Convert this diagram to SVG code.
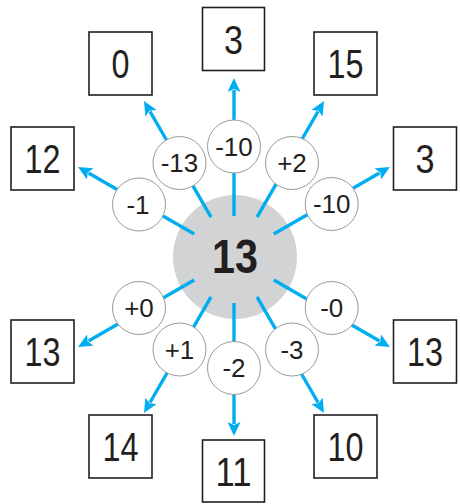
<svg xmlns="http://www.w3.org/2000/svg" width="460" height="504" viewBox="0 0 460 504">
<style>
.bg{fill:#ffffff}
.hub{fill:#D1D3D4}
.hubt{font-family:"Liberation Sans Narrow","Liberation Sans",Arial,sans-serif;font-weight:bold;font-size:49px;fill:#231F20;text-anchor:middle}
.sc{fill:#ffffff;stroke:#9a9a9a;stroke-width:1}
.st{font-family:"Liberation Sans",Arial,sans-serif;font-size:26px;fill:#231F20;text-anchor:middle}
.box{fill:#ffffff;stroke:#231F20;stroke-width:1.6}
.bt{font-family:"Liberation Sans Narrow","Liberation Sans",Arial,sans-serif;font-size:41px;fill:#231F20;text-anchor:middle}
.ln{stroke:#00AEEF;stroke-width:3.4;fill:none;marker-end:url(#ah)}
</style>
<defs>
<marker id="ah" viewBox="0 0 14 13" markerWidth="14" markerHeight="13" markerUnits="userSpaceOnUse" refX="2" refY="6.5" orient="auto">
<path d="M0,0 L14,6.5 L0,13 L3,6.5 Z" fill="#00AEEF"/>
</marker>
</defs>
<rect class="bg" x="0" y="0" width="460" height="504"/>
<g id="hub-circle"><circle class="hub" cx="235" cy="257" r="62"/></g>
<g id="connectors">
<line class="ln" x1="234" y1="216" x2="234" y2="90"/>
<line class="ln" x1="257" y1="217.2" x2="318" y2="111.5"/>
<line class="ln" x1="273.8" y1="234" x2="379.5" y2="173"/>
<line class="ln" x1="273.8" y1="280" x2="379.5" y2="341"/>
<line class="ln" x1="257" y1="296.8" x2="318" y2="402.5"/>
<line class="ln" x1="234" y1="303" x2="234" y2="424"/>
<line class="ln" x1="211" y1="296.8" x2="150" y2="402.5"/>
<line class="ln" x1="194.2" y1="280" x2="88.5" y2="341"/>
<line class="ln" x1="194.2" y1="234" x2="88.5" y2="173"/>
<line class="ln" x1="211" y1="217.2" x2="150" y2="111.5"/>
</g>
<g id="hub-label"><text class="hubt" x="235" y="273" textLength="46" lengthAdjust="spacingAndGlyphs">13</text></g>
<g id="op-m1"><circle class="sc" cx="139" cy="204.5" r="26.5"/><text class="st" x="138" y="213.5">-1</text></g>
<g id="op-m13"><circle class="sc" cx="179.5" cy="163" r="26.5"/><text class="st" x="179.5" y="172">-13</text></g>
<g id="op-m10a"><circle class="sc" cx="234" cy="146.5" r="26.5"/><text class="st" x="234" y="155.5">-10</text></g>
<g id="op-p2"><circle class="sc" cx="292" cy="163" r="26.5"/><text class="st" x="292" y="172">+2</text></g>
<g id="op-m10b"><circle class="sc" cx="331.7" cy="204" r="26.5"/><text class="st" x="331.7" y="213">-10</text></g>
<g id="op-p0"><circle class="sc" cx="139" cy="308" r="26.5"/><text class="st" x="139" y="317">+0</text></g>
<g id="op-p1"><circle class="sc" cx="179.5" cy="349.5" r="26.5"/><text class="st" x="179.5" y="358.5">+1</text></g>
<g id="op-m2"><circle class="sc" cx="234" cy="368" r="26.5"/><text class="st" x="234" y="376.5">-2</text></g>
<g id="op-m3"><circle class="sc" cx="292" cy="349.5" r="26.5"/><text class="st" x="292" y="358.5">-3</text></g>
<g id="op-m0"><circle class="sc" cx="331.7" cy="308" r="26.5"/><text class="st" x="331.7" y="317">-0</text></g>
<g id="res-0"><rect class="box" x="89" y="32" width="63" height="63"/><text class="bt" x="120.5" y="78" textLength="18" lengthAdjust="spacingAndGlyphs">0</text></g>
<g id="res-3a"><rect class="box" x="202.5" y="7.5" width="62" height="63"/><text class="bt" x="233.5" y="53.5" textLength="19" lengthAdjust="spacingAndGlyphs">3</text></g>
<g id="res-15"><rect class="box" x="314" y="32" width="63" height="63"/><text class="bt" x="345.5" y="78" textLength="36" lengthAdjust="spacingAndGlyphs">15</text></g>
<g id="res-12"><rect class="box" x="11" y="127" width="63" height="63"/><text class="bt" x="42.5" y="173" textLength="36" lengthAdjust="spacingAndGlyphs">12</text></g>
<g id="res-3b"><rect class="box" x="393.5" y="127" width="63" height="63"/><text class="bt" x="425" y="173" textLength="19" lengthAdjust="spacingAndGlyphs">3</text></g>
<g id="res-13a"><rect class="box" x="11" y="320" width="63" height="63"/><text class="bt" x="42.5" y="366" textLength="36" lengthAdjust="spacingAndGlyphs">13</text></g>
<g id="res-13b"><rect class="box" x="393.5" y="320" width="63" height="63"/><text class="bt" x="425" y="366" textLength="36" lengthAdjust="spacingAndGlyphs">13</text></g>
<g id="res-14"><rect class="box" x="89" y="415" width="63" height="63"/><text class="bt" x="120.5" y="461" textLength="36" lengthAdjust="spacingAndGlyphs">14</text></g>
<g id="res-11"><rect class="box" x="202.5" y="440" width="62" height="62"/><text class="bt" x="233.5" y="486" textLength="36" lengthAdjust="spacingAndGlyphs">11</text></g>
<g id="res-10"><rect class="box" x="314" y="415" width="63" height="63"/><text class="bt" x="345.5" y="461" textLength="36" lengthAdjust="spacingAndGlyphs">10</text></g>
</svg>
